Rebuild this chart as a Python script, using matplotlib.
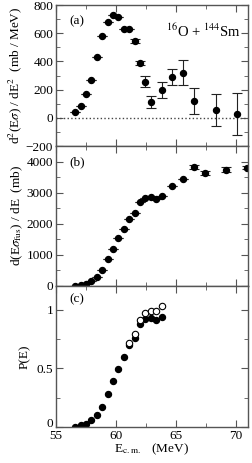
import matplotlib
matplotlib.use("Agg")
import matplotlib.pyplot as plt
from matplotlib.ticker import MultipleLocator
from matplotlib.transforms import ScaledTranslation

plt.rcParams['font.family'] = ['Liberation Serif', 'DejaVu Serif']
plt.rcParams['mathtext.fontset'] = 'stix'

# Panel (a): second derivative (barrier distribution)
ea = [56.6, 57.06, 57.5, 57.94, 58.42, 58.86, 59.3, 59.75, 60.2, 60.64, 61.08,
      61.56, 62.0, 62.44, 62.9, 63.8, 64.7, 65.58, 66.47, 68.3, 70.05]
da = [41, 86, 169, 266, 434, 578, 677, 731, 717, 632, 632,
      547, 391, 257, 112, 200, 290, 320, 117, 55, 27]
da_err = [0, 0, 0, 0, 0, 0, 0, 0, 0, 0, 0,
          15, 15, 40, 44, 57, 58, 89, 93, 112, 150]

# Panel (b): first derivative of E*sigma_fus
eb = [56.6, 57.06, 57.5, 57.94, 58.42, 58.86, 59.3, 59.75, 60.2, 60.64, 61.08,
      61.56, 62.0, 62.44, 62.9, 63.35, 63.8, 64.7, 65.58, 66.47, 67.4, 69.2, 70.9]
db = [10, 40, 75, 150, 300, 515, 858, 1190, 1533, 1844, 2145,
      2360, 2692, 2842, 2863, 2810, 2895, 3227, 3432, 3818, 3636, 3733, 3797]
db_err = [0, 0, 0, 0, 0, 0, 0, 0, 0, 0, 0,
          0, 0, 0, 0, 0, 0, 0, 0, 60, 60, 80, 50]

# Panel (c): P(E)
ec = [56.6, 57.06, 57.5, 57.94, 58.42, 58.86, 59.3, 59.75, 60.2, 60.64, 61.08,
      61.56, 62.0, 62.44, 62.9, 63.35, 63.8]
pc = [0.0, 0.014, 0.026, 0.057, 0.102, 0.167, 0.278, 0.392, 0.497, 0.599, 0.702,
      0.759, 0.875, 0.917, 0.926, 0.909, 0.938]
ec_open = [61.08, 61.56, 62.0, 62.44, 62.9, 63.35, 63.8]
pc_open = [0.716, 0.79, 0.91, 0.97, 0.99, 0.99, 1.03]
pc_open_err = [0.01, 0.01, 0.015, 0.02, 0.02, 0.02, 0.02]

fig = plt.figure(figsize=(2.52, 4.63), dpi=100)
L, R = 56/252, 248/252
tops = [5, 146, 286]
bots = [146, 286, 427]
axes = []
for t, b in zip(tops, bots):
    ax = fig.add_axes([L, 1 - b/463, R - L, (b - t)/463])
    axes.append(ax)

sc = '#555555'
fs = 9.5
for ax in axes:
    ax.set_xlim(55, 71)
    ax.xaxis.set_major_locator(MultipleLocator(5))
    ax.xaxis.set_minor_locator(MultipleLocator(2.5))
    ax.tick_params(which='both', direction='in', top=True, right=True,
                   color=sc, labelsize=fs, pad=2)
    ax.tick_params(which='major', length=5)
    ax.tick_params(which='minor', length=3)
    for s in ax.spines.values():
        s.set_color(sc)
        s.set_linewidth(1.0)

axa, axb, axc = axes
mk = dict(fmt='o', color='black', ms=4.3, elinewidth=0.8, capsize=3.5, capthick=0.8, ecolor='#222222')

# (a)
axa.axhline(0, color='#444444', ls=':', lw=1.0)
axa.errorbar(ea, da, yerr=da_err, **mk)
axa.set_ylim(-200, 800)
axa.yaxis.set_major_locator(MultipleLocator(200))
axa.yaxis.set_minor_locator(MultipleLocator(100))
axa.set_xticklabels([])
axa.set_ylabel(r'd$^2$(E$\sigma$) / dE$^2$  (mb / MeV)', fontsize=fs, labelpad=1)
axa.text(0.07, 0.93, '(a)', transform=axa.transAxes, fontsize=fs, va='top')
axa.text(0.965, 0.875, r'$^{16}$O + $^{144}$Sm', transform=axa.transAxes,
         fontsize=fs + 1, va='top', ha='right')

# (b)
axb.errorbar(eb, db, yerr=db_err, **mk)
axb.set_ylim(0, 4500)
axb.yaxis.set_major_locator(MultipleLocator(1000))
axb.yaxis.set_minor_locator(MultipleLocator(500))
axb.set_xticklabels([])
axb.set_ylabel(r'd(E$\sigma_{\rm fus}$) / dE  (mb)', fontsize=fs, labelpad=1)
axb.text(0.07, 0.93, '(b)', transform=axb.transAxes, fontsize=fs, va='top')

# (c)
axc.errorbar(ec_open, pc_open, yerr=pc_open_err, fmt='o', mfc='white', mec='black',
             color='black', ms=4.6, mew=0.8, elinewidth=0.7, capsize=0)
axc.plot(ec, pc, 'o', color='black', ms=4.3)
axc.set_ylim(0, 1.2)
axc.yaxis.set_minor_locator(MultipleLocator(0.25))
axc.set_yticks([0, 0.5, 1])
axc.set_yticklabels(['0', '0.5', '1'])
axc.set_ylabel('P(E)', fontsize=fs, labelpad=4)
axc.text(0.07, 0.95, '(c)', transform=axc.transAxes, fontsize=fs, va='top')
axc.set_xlabel(r'E$_{\rm c.m.}$   (MeV)', fontsize=fs, labelpad=0)
# nudge the "0" y label upward a little so it sits above the "55" label
lab0 = axc.get_yticklabels()[0]
lab0.set_transform(lab0.get_transform() + ScaledTranslation(0, 3/72, fig.dpi_scale_trans))

fig.savefig('out.png', dpi=100)
